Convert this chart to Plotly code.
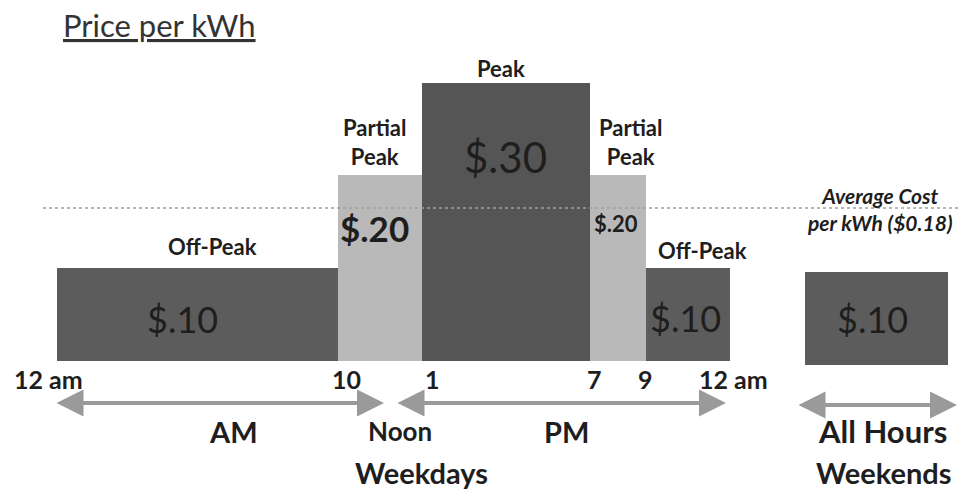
import plotly.graph_objects as go

# ---------------- data ----------------
period_names = ["Off-Peak", "Partial<br>Peak", "Peak", "Partial<br>Peak", "Off-Peak"]
period_start_hour = [0, 10, 13, 19, 21]
period_end_hour = [10, 13, 19, 21, 24]
weekday_price = [0.10, 0.20, 0.30, 0.20, 0.10]

weekend_price = [0.10]
weekend_start_hour = [0]
weekend_end_hour = [24]

hour_tick_values = [0, 10, 13, 19, 21, 24]
hour_tick_labels = ["12 am", "10", "1", "7", "9", "12 am"]

average_cost = 0.18
average_line_level = 0.165   # where the dotted line is drawn in the picture

# ---------------- styles / placement ----------------
W, H = 960, 492
FONT = "Lato"
TXT = "#1e1e1e"
bar_colors = ["#5c5c5c", "#b9b9b9", "#555555", "#b9b9b9", "#5c5c5c"]
weekend_color = "#5c5c5c"

price_font_size = [36, 35, 42, 22, 36]
price_bold = [False, True, False, True, False]
price_dx = [-14, -5, 0, -2, -2]          # px offset from bar centre
price_y = [0.045, 0.143, 0.220, 0.148, 0.046]

name_dx = [16, -5, -5, 13, 15]
name_yshift = [6, 3, -1, 3, 2]

tick_dx = [-8, 9, 11, 5, 0, 4]


def px_x(p):
    return p / W


def px_y(p):
    return 1 - p / H


def price_text(v):
    return "$" + f"{v:.2f}"[1:]


fig = go.Figure()

mids = [(s + e) / 2 for s, e in zip(period_start_hour, period_end_hour)]
widths = [e - s for s, e in zip(period_start_hour, period_end_hour)]
fig.add_trace(go.Bar(
    x=mids, y=weekday_price, width=widths,
    marker=dict(color=bar_colors, line=dict(width=0)),
    xaxis="x", yaxis="y", showlegend=False, hoverinfo="skip",
))

wk_mid = [(s + e) / 2 for s, e in zip(weekend_start_hour, weekend_end_hour)]
wk_w = [e - s for s, e in zip(weekend_start_hour, weekend_end_hour)]
fig.add_trace(go.Bar(
    x=wk_mid, y=weekend_price, width=wk_w,
    marker=dict(color=weekend_color, line=dict(width=0)),
    xaxis="x2", yaxis="y2", showlegend=False, hoverinfo="skip",
))

ann = []

# price labels inside bars
for i, v in enumerate(weekday_price):
    t = price_text(v)
    if price_bold[i]:
        t = "<b>" + t + "</b>"
    ann.append(dict(x=mids[i], y=price_y[i], xref="x", yref="y", text=t,
                    showarrow=False, xshift=price_dx[i],
                    xanchor="center", yanchor="middle",
                    font=dict(family=FONT, size=price_font_size[i], color=TXT)))
ann.append(dict(x=wk_mid[0], y=0.050, xref="x2", yref="y2",
                text=price_text(weekend_price[0]), showarrow=False, xshift=-4,
                xanchor="center", yanchor="middle",
                font=dict(family=FONT, size=36, color=TXT)))

# period names above bars
for i, n in enumerate(period_names):
    ann.append(dict(x=mids[i], y=weekday_price[i], xref="x", yref="y",
                    text="<b>" + n + "</b>", showarrow=False,
                    xanchor="center", yanchor="bottom",
                    xshift=name_dx[i], yshift=name_yshift[i],
                    font=dict(family=FONT, size=22, color=TXT)))

# hour ticks
for v, lab, dx in zip(hour_tick_values, hour_tick_labels, tick_dx):
    ann.append(dict(x=v, y=px_y(379), xref="x", yref="paper",
                    text="<b>" + lab + "</b>", showarrow=False, xshift=dx,
                    xanchor="center", yanchor="middle",
                    font=dict(family=FONT, size=25, color=TXT)))

# arrows
def arrow(x0, x1, y):
    return dict(x=px_x(x1), y=px_y(y), xref="paper", yref="paper",
                ax=-(x1 - x0), ay=0, axref="pixel", ayref="pixel",
                text="", showarrow=True, arrowhead=2, arrowside="end+start",
                arrowsize=1.35, arrowwidth=4, arrowcolor="#9a9a9a", standoff=0,
                startstandoff=0)

ann.append(arrow(55, 384, 403))
ann.append(arrow(396, 726, 403))
ann.append(arrow(797, 957, 405))

# lower labels
def label(text, x, y, size):
    return dict(x=px_x(x), y=px_y(y), xref="paper", yref="paper",
                text="<b>" + text + "</b>", showarrow=False,
                xanchor="center", yanchor="middle", borderpad=0,
                font=dict(family=FONT, size=size, color=TXT))

ann.append(label("AM", 233, 431, 29))
ann.append(label("Noon", 400, 431, 26))
ann.append(label("PM", 566, 431, 29))
ann.append(label("All Hours", 882, 431, 31))
ann.append(label("Weekdays", 421, 472, 29))
ann.append(label("Weekends", 883, 472, 29))

# average cost note
ann.append(dict(x=px_x(879), y=px_y(209), xref="paper", yref="paper",
                text="<b><i>Average Cost</i></b><br><b><i>per kWh ($" + f"{average_cost:.2f}" + ")</i></b>",
                showarrow=False, align="center",
                xanchor="center", yanchor="middle",
                font=dict(family=FONT, size=21, color=TXT)))

# title
ann.append(dict(x=px_x(61), y=px_y(25), xref="paper", yref="paper",
                text="Price per kWh", showarrow=False,
                xanchor="left", yanchor="middle",
                font=dict(family=FONT, size=31, color="#333333", lineposition="under")))

fig.update_layout(
    width=W, height=H,
    margin=dict(l=0, r=0, t=0, b=0),
    paper_bgcolor="white", plot_bgcolor="white",
    bargap=0,
    xaxis=dict(domain=[0.059, 0.7604], range=[0, 24], visible=False, fixedrange=True),
    yaxis=dict(domain=[px_y(361), 1], range=[0, 361 / 928], visible=False, fixedrange=True),
    xaxis2=dict(domain=[805 / W, 948 / W], range=[0, 24], visible=False, anchor="y2"),
    yaxis2=dict(domain=[px_y(365), 1], range=[0, 365 / 928], visible=False, anchor="x2"),
    annotations=ann,
    shapes=[dict(type="line", xref="paper", yref="y", x0=px_x(43), x1=1,
                 y0=average_line_level, y1=average_line_level,
                 line=dict(color="#a0a0a0", width=1.5, dash="dot"), layer="above")],
)

fig.write_html("out.html", config={"displayModeBar": False},
               post_script="document.body.style.margin='0px';document.body.style.overflow='hidden';")
